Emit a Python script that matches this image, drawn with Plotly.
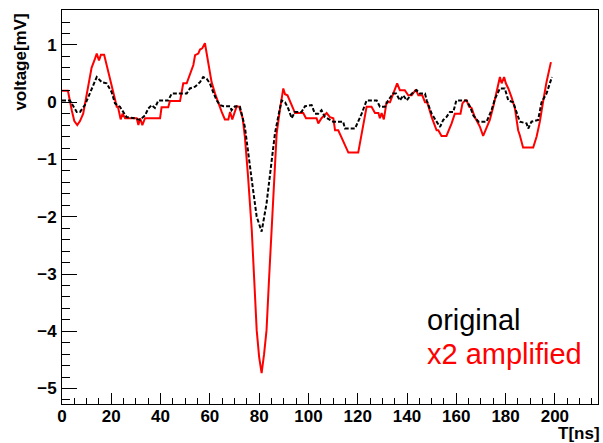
import plotly.graph_objects as go

# x2 amplified (red)
amp_t = [0, 2.4, 4, 5, 6.2, 7.3, 8.6, 9.5, 10.7, 12, 13.4, 14.1, 15, 15.8, 17.1, 18.6, 20.1, 21.5, 22.2, 22.7,
         23.8, 24.6, 25.6, 30.3, 31, 31.7, 32.6, 33.7, 39.8, 40.4, 43.1, 43.8, 47.9, 49.2, 50.6, 51.9, 53.3, 54,
         55.3, 56, 56.9, 58, 59.4, 60.7, 62.1, 63.4, 64.8, 66.1, 67.5, 68.2, 69.1, 70.9, 71.9, 73.3, 74.2, 75.5,
         77, 78, 79, 80, 81, 82, 83, 84, 85.1, 86.2, 87.1, 88.4, 89.8, 90.5, 91.5, 93.8, 94.5, 97.9, 99, 103.3,
         104, 105.3, 107.4, 108.7, 110.1, 110.8, 112.1, 116.2, 120.2, 123.6, 125.6, 127, 128.4, 129, 129.7, 130.6,
         131.7, 133.1, 136, 137.1, 139.1, 140.5, 141.9, 143.6, 144.6, 146.2, 147.3, 148.2, 150, 152, 152.7, 154,
         156, 158.1, 159.4, 161.7, 162.5, 163.5, 164.2, 165.2, 166.2, 167.5, 169.6, 170.9, 172.3, 173.6, 175,
         176.3, 177.7, 178.4, 179.4, 180.1, 181.1, 182.4, 183.8, 185.1, 185.8, 187.1, 191.2, 192.6, 193.9, 195.3,
         196.6, 198.4]
amp_v = [0.2, 0.2, -0.15, -0.33, -0.4, -0.33, -0.2, 0.0, 0.25, 0.6, 0.76, 0.85, 0.73, 0.83, 0.83, 0.58, 0.33, 0.05,
         -0.08, -0.08, -0.3, -0.2, -0.28, -0.28, -0.4, -0.28, -0.4, -0.28, -0.28, -0.09, -0.09, 0.02, 0.02, 0.33,
         0.33, 0.5, 0.65, 0.82, 0.85, 0.92, 0.94, 1.03, 0.67, 0.35, 0.15, -0.02, -0.17, -0.3, -0.3, -0.17, -0.3,
         -0.07, -0.08, -0.28, -0.6, -1.3, -2.23, -3.1, -3.98, -4.45, -4.73, -4.4, -3.98, -3.1, -2.23, -1.3, -0.55,
         -0.14, 0.24, 0.14, 0.12, -0.11, -0.19, -0.19, -0.28, -0.28, -0.37, -0.28, -0.19, -0.26, -0.28, -0.49,
         -0.49, -0.88, -0.88, -0.08, -0.08, -0.19, -0.19, -0.28, -0.19, -0.3, 0.0, 0.0, 0.33, 0.21, 0.21, 0.12,
         0.12, 0.22, 0.12, 0.12, 0.0, 0.0, -0.26, -0.49, -0.49, -0.59, -0.59, -0.37, -0.2, -0.2, -0.02, 0.03, 0.03,
         -0.08, -0.1, -0.26, -0.43, -0.59, -0.46, -0.31, -0.08, 0.15, 0.44, 0.33, 0.44, 0.33, 0.24, 0.09, -0.11,
         -0.49, -0.58, -0.79, -0.79, -0.6, -0.34, 0.03, 0.35, 0.7]

# original (black dashed)
orig_t = [0, 3.2, 6, 7.3, 9.3, 12, 14.1, 16.1, 18.1, 20.1, 21.5, 23.5, 25, 26.2, 29.6, 31.6, 33.7, 35, 36.4, 37.7,
          39.1, 43.1, 44.5, 50.6, 51.9, 54, 56, 57.3, 58.7, 60, 61.3, 62.8, 64.1, 65.5, 68.2, 68.8, 70.2, 72.2,
          74.2, 75.6, 77, 79, 81, 83, 85.1, 86.4, 87.7, 89.1, 90.5, 91.8, 93.2, 94.5, 97.2, 98.6, 101.3, 102.6,
          104, 105.3, 106.7, 110, 114.1, 114.8, 118.9, 121.6, 123.6, 127.7, 129, 131, 132.3, 134.3, 135.6, 137.1,
          138.5, 139.9, 141.9, 143.9, 145.2, 147.3, 148, 150, 152, 153.4, 154.7, 156, 157.4, 158.8, 160, 164.2,
          165.6, 166.9, 169, 172.3, 174.3, 175.7, 177.7, 179.7, 181.1, 183.1, 184.4, 185.8, 188.5, 189.2, 190.5,
          193.2, 194.6, 196.6, 198.8]
orig_v = [0.03, 0.03, -0.17, -0.17, -0.05, 0.24, 0.44, 0.35, 0.33, 0.18, -0.02, -0.08, -0.17, -0.26, -0.28, -0.31,
          -0.23, -0.11, -0.05, -0.1, 0.03, 0.03, 0.15, 0.15, 0.24, 0.27, 0.35, 0.44, 0.41, 0.33, 0.18, 0.03, -0.05,
          -0.07, -0.07, -0.14, -0.07, -0.08, -0.43, -0.85, -1.36, -2.0, -2.26, -1.77, -1.07, -0.55, -0.26, 0.03,
          0.0, -0.11, -0.28, -0.17, -0.17, -0.07, -0.05, -0.2, -0.2, -0.14, -0.26, -0.34, -0.34, -0.46, -0.46,
          -0.2, 0.03, 0.03, -0.08, -0.08, 0.03, 0.15, 0.15, 0.03, 0.12, 0.03, 0.15, 0.21, 0.15, 0.15, 0.03, -0.2,
          -0.34, -0.43, -0.31, -0.26, -0.17, -0.17, 0.03, 0.03, -0.08, -0.23, -0.34, -0.34, -0.14, 0.06, 0.24, 0.24,
          0.03, 0.0, -0.17, -0.34, -0.37, -0.46, -0.34, -0.31, 0.0, 0.15, 0.44]

x_title = "T[ns]"
y_title = "voltage[mV]"
legend_labels = ["original", "x2 amplified"]

FONT = "Liberation Sans, Arial, Helvetica, sans-serif"

fig = go.Figure()
fig.add_trace(go.Scatter(x=amp_t, y=amp_v, mode="lines", name=legend_labels[1],
                         line=dict(color="#ff0000", width=2)))
fig.add_trace(go.Scatter(x=orig_t, y=orig_v, mode="lines", name=legend_labels[0],
                         line=dict(color="black", width=2, dash="4px,2px")))

fig.update_layout(
    width=603, height=443,
    margin=dict(l=62, r=5, t=10, b=39),
    paper_bgcolor="white", plot_bgcolor="white",
    showlegend=False,
    font=dict(family=FONT, color="black"),
)
fig.update_xaxes(
    range=[0, 217.5], tickmode="linear", tick0=0, dtick=20,
    ticks="inside", ticklen=11, tickwidth=1, tickcolor="black",
    minor=dict(dtick=5, tick0=0, ticks="inside", ticklen=6, tickcolor="black", tickwidth=1),
    showgrid=False, zeroline=False,
    showline=True, mirror=True, linecolor="black", linewidth=1,
    tickfont=dict(family=FONT, size=17, color="black", weight="bold"),
    ticklabelstandoff=-3,
)
fig.update_yaxes(
    range=[-5.27, 1.61], tickmode="linear", tick0=0, dtick=1,
    ticks="inside", ticklen=15, tickwidth=1, tickcolor="black",
    minor=dict(dtick=0.2, tick0=0, ticks="inside", ticklen=8, tickcolor="black", tickwidth=1),
    showgrid=False, zeroline=False,
    showline=True, mirror=True, linecolor="black", linewidth=1,
    tickfont=dict(family=FONT, size=17, color="black", weight="bold"),
    ticklabelstandoff=1,
)

fig.add_annotation(text=x_title, xref="paper", yref="paper", x=1.008, y=-0.076,
                   xanchor="right", yanchor="middle", showarrow=False,
                   font=dict(family=FONT, size=17, color="black", weight="bold"))
fig.add_annotation(text=y_title, xref="paper", yref="paper", x=-0.078, y=0.867,
                   xanchor="center", yanchor="middle", showarrow=False, textangle=-90,
                   font=dict(family=FONT, size=17, color="black", weight="bold"))
fig.add_annotation(text=legend_labels[0], xref="paper", yref="paper", x=0.677, y=0.213,
                   xanchor="left", yanchor="middle", showarrow=False,
                   font=dict(family=FONT, size=29, color="black"))
fig.add_annotation(text=legend_labels[1], xref="paper", yref="paper", x=0.677, y=0.127,
                   xanchor="left", yanchor="middle", showarrow=False,
                   font=dict(family=FONT, size=29, color="#ff0000"))

fig.write_html("out.html")
